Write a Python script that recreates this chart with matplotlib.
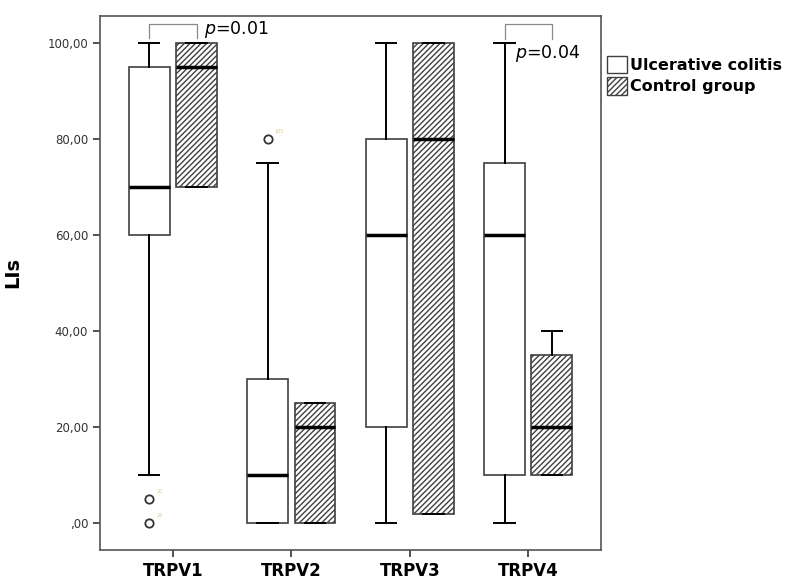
import matplotlib.pyplot as plt
from matplotlib.patches import Patch

channels = ['TRPV1', 'TRPV2', 'TRPV3', 'TRPV4']

# Ulcerative colitis
uc_low = [10, 0, 0, 0]
uc_q1 = [60, 0, 20, 10]
uc_med = [70, 10, 60, 60]
uc_q3 = [95, 30, 80, 75]
uc_high = [100, 75, 100, 100]
uc_out = [[5, 0], [80], [], []]
uc_out_ids = [['20', '26'], ['105'], [], []]

# Control group
cg_low = [70, 0, 2, 10]
cg_q1 = [70, 0, 2, 10]
cg_med = [95, 20, 80, 20]
cg_q3 = [100, 25, 100, 35]
cg_high = [100, 25, 100, 40]

yticks = [0, 20, 40, 60, 80, 100]
ytick_labels = [',00', '20,00', '40,00', '60,00', '80,00', '100,00']

plt.rcParams['hatch.linewidth'] = 1.0
plt.rcParams['hatch.color'] = '#404040'

fig = plt.figure(figsize=(7.92, 5.8), dpi=100)
ax = fig.add_axes([0.1263, 0.0517, 0.6326, 0.9207])

def make_stats(lo, q1, med, q3, hi, out):
    st = []
    for i in range(len(lo)):
        st.append(dict(whislo=lo[i], q1=q1[i], med=med[i], q3=q3[i],
                       whishi=hi[i], fliers=out[i]))
    return st

pos = list(range(1, len(channels) + 1))
off = 0.2
w = 0.345

uc_stats = make_stats(uc_low, uc_q1, uc_med, uc_q3, uc_high, uc_out)
cg_stats = make_stats(cg_low, cg_q1, cg_med, cg_q3, cg_high, [[] for c in channels])

common = dict(widths=w, patch_artist=True, manage_ticks=False,
              whiskerprops=dict(color='black', linewidth=1.4),
              capprops=dict(color='black', linewidth=1.4),
              medianprops=dict(color='black', linewidth=2.5),
              flierprops=dict(marker='o', markerfacecolor='white',
                              markeredgecolor='#333333', markersize=6,
                              markeredgewidth=1.3))

ax.bxp(uc_stats, positions=[p - off for p in pos],
       boxprops=dict(facecolor='white', edgecolor='#404040', linewidth=1.2),
       **common)
ax.bxp(cg_stats, positions=[p + off for p in pos],
       boxprops=dict(facecolor='white', edgecolor='#404040', linewidth=1.2,
                     hatch='//////'),
       **common)

# tiny case-number labels beside outliers
for i in range(len(channels)):
    for v, lab in zip(uc_out[i], uc_out_ids[i]):
        ax.text(pos[i] - off + 0.06, v + 1.2, lab, fontsize=3.5,
                color='#d8cc90')

ax.set_xlim(0.385, 4.615)
ax.set_ylim(-5.6, 105.6)
ax.set_xticks(pos)
ax.set_xticklabels(channels, fontsize=12, fontweight='bold')
ax.set_yticks(yticks)
ax.set_yticklabels(ytick_labels, fontsize=8.5, color='#333333')
ax.set_ylabel('LIs', fontsize=14, fontweight='bold')
ax.yaxis.set_label_coords(-0.155, 0.52)
ax.tick_params(axis='both', direction='out', length=5, width=1.2,
               colors='#333333')
ax.tick_params(axis='x', labelcolor='black')
for s in ax.spines.values():
    s.set_color('#555555')
    s.set_linewidth(1.2)

# significance brackets
def bracket(x1, x2, y_top, y_bot, txt, tx, ty):
    ax.plot([x1, x1, x2, x2], [y_bot, y_top, y_top, y_bot], color='#888888',
            linewidth=0.9, clip_on=False)
    ax.text(tx, ty, txt, fontsize=12.5, ha='left', va='center')

bracket(pos[0] - off, pos[0] + off, 104.0, 101.0, '$p$=0.01', 1.26, 102.7)
bracket(pos[3] - off, pos[3] + off, 104.0, 100.8, '$p$=0.04', 3.89, 97.7)

handles = [Patch(facecolor='white', edgecolor='#404040', linewidth=1.0),
           Patch(facecolor='white', edgecolor='#404040', linewidth=1.0,
                 hatch='//////')]
leg = fig.legend(handles, ['Ulcerative colitis', 'Control group'],
                 loc='upper left', bbox_to_anchor=(0.758, 0.915),
                 frameon=False, handlelength=1.3, handleheight=1.3,
                 handletextpad=0.15, labelspacing=0.25, borderaxespad=0,
                 prop=dict(size=11.5, weight='bold'))

fig.savefig('out.png', dpi=100)
